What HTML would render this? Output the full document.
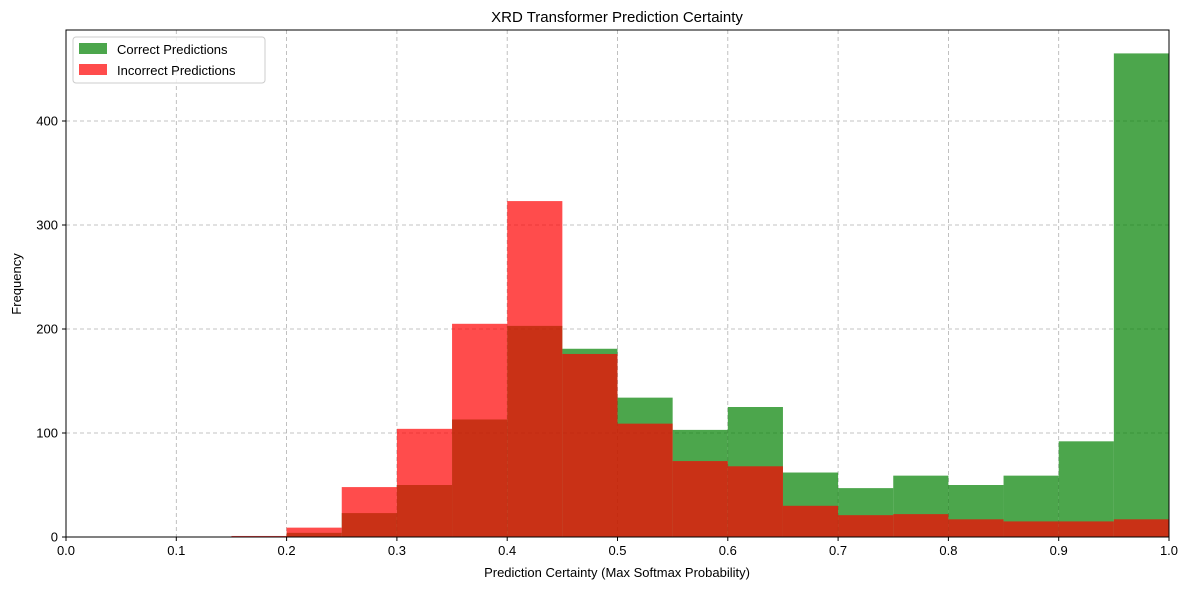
<!DOCTYPE html>
<html><head><meta charset="utf-8"><style>
body{margin:0;background:#fff;font-family:"Liberation Sans","DejaVu Sans",sans-serif}
svg text{font-family:"Liberation Sans","DejaVu Sans",sans-serif;fill:#000}
</style></head><body>
<svg id="chart" width="1189" height="590" xmlns="http://www.w3.org/2000/svg">
<rect width="1189" height="590" fill="#fff"/>
<g id="grid"></g><g id="bars"></g><g id="axes"></g>
<text x="617" y="22" text-anchor="middle" font-size="15">XRD Transformer Prediction Certainty</text>
<text x="617" y="577" text-anchor="middle" font-size="13">Prediction Certainty (Max Softmax Probability)</text>
<text x="21" y="284" text-anchor="middle" font-size="13" transform="rotate(-90 21 284)">Frequency</text>
<g>
<rect x="73" y="37" width="192" height="46" rx="3" fill="#fff" fill-opacity="0.8" stroke="#ccc"/>
<rect x="79" y="43" width="28" height="11" fill="green" fill-opacity="0.7"/>
<text x="117" y="54" font-size="13">Correct Predictions</text>
<rect x="79" y="64" width="28" height="11" fill="red" fill-opacity="0.7"/>
<text x="117" y="75" font-size="13">Incorrect Predictions</text>
</g>
</svg>
<script>
const binStarts=[0,0.05,0.1,0.15,0.2,0.25,0.3,0.35,0.4,0.45,0.5,0.55,0.6,0.65,0.7,0.75,0.8,0.85,0.9,0.95];
const correctCounts=[0,0,0,0,4,23,50,113,203,181,134,103,125,62,47,59,50,59,92,465];
const incorrectCounts=[0,0,0,1,9,48,104,205,323,176,109,73,68,30,21,22,17,15,15,17];
const xTicks=[0,0.1,0.2,0.3,0.4,0.5,0.6,0.7,0.8,0.9,1.0];
const yTicks=[0,100,200,300,400];
const binWidth=0.05;
const L=66,R=1169,T=30,B=537,yMax=487.5;
const sx=v=>L+v*(R-L);
const sy=v=>B-v/yMax*(B-T);
const NS="http://www.w3.org/2000/svg";
function mk(tag,attrs,parent){const e=document.createElementNS(NS,tag);for(const k in attrs)e.setAttribute(k,attrs[k]);parent.appendChild(e);return e;}
const grid=document.getElementById('grid'),bars=document.getElementById('bars'),axes=document.getElementById('axes');
xTicks.forEach(t=>{
 const l=mk('line',{x1:sx(t),x2:sx(t),y1:T,y2:B,stroke:'#b0b0b0','stroke-dasharray':'4,3','stroke-width':0.8},grid);
 
 
 mk('line',{x1:sx(t),x2:sx(t),y1:B,y2:B+4,stroke:'#000'},axes);
 const tx=mk('text',{x:sx(t),y:B+18,'text-anchor':'middle','font-size':13},axes);tx.textContent=t.toFixed(1);
 
 
});
yTicks.forEach(t=>{
 const l=mk('line',{x1:L,x2:R,y1:sy(t),y2:sy(t),stroke:'#b0b0b0','stroke-dasharray':'4,3','stroke-width':0.8},grid);
 
 
 mk('line',{x1:L-4,x2:L,y1:sy(t),y2:sy(t),stroke:'#000'},axes);
 const tx=mk('text',{x:L-8,y:sy(t)+4.5,'text-anchor':'end','font-size':13},axes);tx.textContent=t;
 
 
});
[[correctCounts,'green','bar-correct'],[incorrectCounts,'red','bar-incorrect']].forEach(([arr,col,nm])=>{
 arr.forEach((v,i)=>{ if(v<=0)return;
  const x0=sx(binStarts[i]),x1=sx(binStarts[i]+binWidth);
  const r=mk('rect',{x:x0,y:sy(v),width:x1-x0,height:B-sy(v),fill:col,'fill-opacity':0.7},bars);
  
  
 });
});
mk('rect',{x:L,y:T,width:R-L,height:B-T,fill:'none',stroke:'#000','stroke-width':1},axes);
</script>
</body></html>
